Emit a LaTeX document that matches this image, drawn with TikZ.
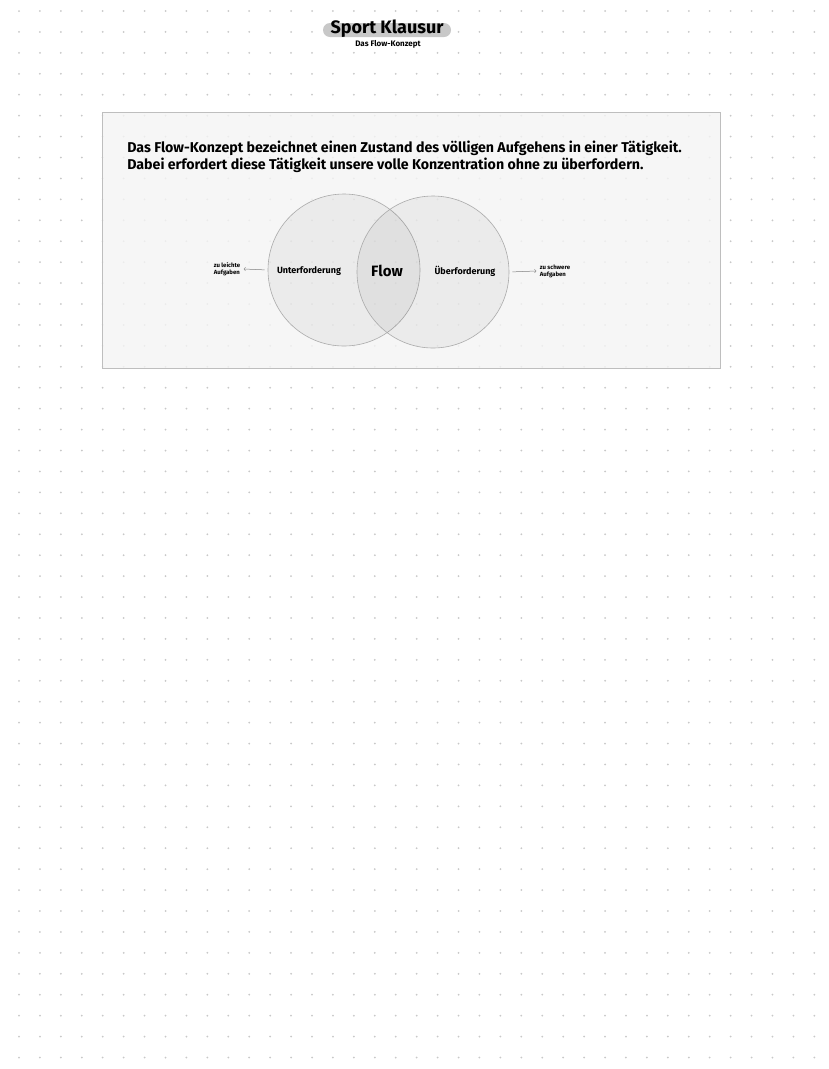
\documentclass[tikz,border=0pt]{standalone}
\usepackage{fontspec}
\setmainfont{Fira Sans}
\usepackage{tikz}
\usetikzlibrary{positioning}

\definecolor{dotgray}{RGB}{200,200,200}
\definecolor{boxfill}{RGB}{244,244,244}
\definecolor{boxline}{RGB}{190,190,190}
\definecolor{pillgray}{RGB}{200,200,200}
\definecolor{circline}{RGB}{170,170,170}

\begin{document}
\begin{tikzpicture}[x=1pt,y=-1pt,line width=0.6pt]
\useasboundingbox (0,0) rectangle (828,1069);
\fill[white] (0,0) rectangle (828,1069);
% dot grid
\foreach \i in {0,...,38}
  \foreach \j in {0,...,50}
    \fill[dotgray] (19+\i*20.93,11+\j*20.93) circle (1);

% title
\path (387,30) node (pill) [fill=pillgray,rounded corners=7pt,minimum width=128pt,minimum height=14pt] {};
\path (387,29) node (title) {\fontsize{18}{18}\selectfont\bfseries Sport Klausur};
\path (388,44) node (subtitle) {\fontsize{8}{8}\selectfont\bfseries Das Flow-Konzept};

% box
\path (411,240) node (box) [draw=boxline,fill=boxfill,fill opacity=0.8,minimum width=618pt,minimum height=256pt] {};
\path (127,157) node (intro) [anchor=west,align=left,inner sep=0pt,font=\fontsize{14.2}{17.5}\selectfont\bfseries] {Das Flow-Konzept bezeichnet einen Zustand des völligen Aufgehens in einer Tätigkeit.\\
Dabei erfordert diese Tätigkeit unsere volle Konzentration ohne zu überfordern.};

% circles
\path (344,270) node (unter) [shape=circle,minimum size=152pt,draw=circline,fill=black,fill opacity=0.045] {};
\path (433,272) node (ueber) [shape=circle,minimum size=152pt,draw=circline,fill=black,fill opacity=0.045] {};

\path (309,271) node (unterl) {\fontsize{9}{9}\selectfont\bfseries Unterforderung};
\path (387,271) node (flow) {\fontsize{15}{15}\selectfont\bfseries Flow};
\path (465,271) node (ueberl) {\fontsize{9}{9}\selectfont\bfseries Überforderung};

\path (227,269) node (leicht) [align=left,font=\fontsize{6}{7}\selectfont\bfseries] {zu leichte\\Aufgaben};
\path (555,271) node (schwer) [align=left,font=\fontsize{6}{7}\selectfont\bfseries] {zu schwere\\Aufgaben};

\draw [->,gray,line width=0.5pt,shorten <=3pt] (unter.west) to (leicht.east);
\draw [->,gray,line width=0.5pt,shorten <=3pt] (ueber.east) to (schwer.west);

\end{tikzpicture}
\end{document}
